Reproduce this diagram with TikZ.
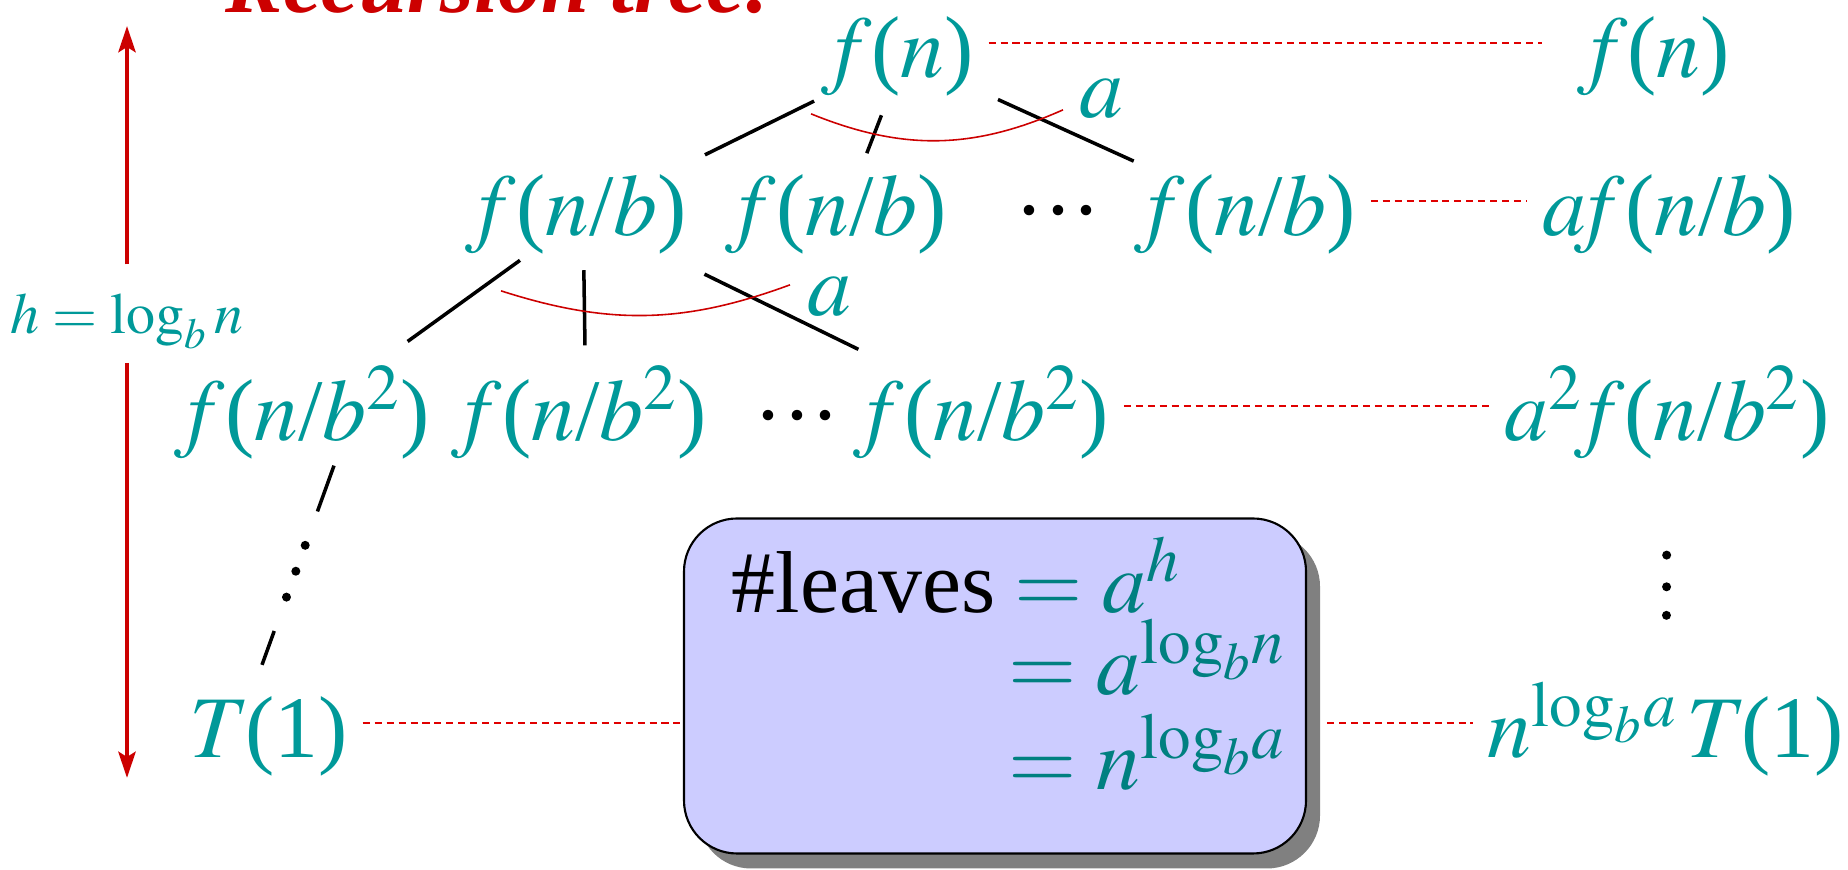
\documentclass[tikz,border=0pt]{standalone}
\usepackage{amsmath}
\usepackage{mathptmx}
\usepackage{fontspec}
\setmainfont{Liberation Serif}
\usetikzlibrary{arrows.meta,positioning,calc,shadows}
\definecolor{treeteal}{HTML}{009999}
\definecolor{boxteal}{HTML}{008080}
\definecolor{treered}{HTML}{CC0000}
\definecolor{dashred}{HTML}{E00000}
\definecolor{boxblue}{HTML}{CCCCFF}
\definecolor{shadowgray}{HTML}{808080}
\newcommand{\mi}[1]{{\fontencoding{OT1}\fontfamily{ptm}\fontshape{it}\selectfont#1\/}}
\newcommand{\rowdots}{\raisebox{.25em}{.\kern.07em.\kern.07em.}}

\begin{document}
\begin{tikzpicture}[
  font=\fontsize{25}{30}\selectfont,
  term/.style={text=treeteal,anchor=base,inner sep=1.4mm},
  edge/.style={line width=1pt,draw=black},
  fanarc/.style={draw=treered,line width=.45pt},
  dashline/.style={draw=dashred,line width=.6pt,dash pattern=on 2pt off 1.4pt},
  harrow/.style={-{Stealth[length=2.6mm,width=1.7mm,inset=.5mm]},line width=1.4pt,draw=treered},
  leafbox/.style={draw=black,line width=.6pt,fill=boxblue,rounded corners=5.3mm,
                  minimum width=6.22cm,minimum height=3.35cm,
                  drop shadow={shadow xshift=1.4mm,shadow yshift=-1.5mm,fill=shadowgray,opacity=1}}
]
\useasboundingbox (0,0) rectangle (18.48,8.70);
\node[anchor=base west,text=treered,inner sep=0,font=\fontsize{24.5}{28}\selectfont\bfseries\itshape] (title) at (2.25,8.575) {Recursion tree:};
% levels of the tree
\node[term] (r1l) at (9.04,7.92) {\mi{f}(\mi{n})};
\node[term] (r1r) at (16.60,7.92) {\mi{f}(\mi{n})};
\node[term] (r2a) at (5.83,6.34) {\mi{f}(\mi{n}/\mi{b})};
\node[term] (r2b) at (8.43,6.34) {\mi{f}(\mi{n}/\mi{b})};
\node[term,text=black] (r2d) at (10.58,6.34) {\rowdots};
\node[term] (r2c) at (12.52,6.34) {\mi{f}(\mi{n}/\mi{b})};
\node[term] (r2r) at (16.69,6.34) {\mi{a}\kern.02em\mi{f}(\mi{n}/\mi{b})};
\node[term] (r3a) at (3.09,4.29) {\mi{f}(\mi{n}/\mi{b}$^2$)};
\node[term] (r3b) at (5.86,4.29) {\mi{f}(\mi{n}/\mi{b}$^2$)};
\node[term,text=black] (r3d) at (7.97,4.29) {\rowdots};
\node[term] (r3c) at (9.88,4.29) {\mi{f}(\mi{n}/\mi{b}$^2$)};
\node[term] (r3r) at (16.67,4.29) {\mi{a}$^2$\kern.05em\mi{f}(\mi{n}/\mi{b}$^2$)};
\node[term] (t1) at (2.69,1.12) {\mi{T}(1)};
\node[term] (r4r) at (16.66,1.12) {\mi{n}$^{\mathrm{log}_b a}$\kern.1em\mi{T}(1)};
\node[term,inner sep=0] (fan1) at (11.01,7.52) {\mi{a}};
\node[term,inner sep=0] (fan2) at (8.29,5.54) {\mi{a}};
% height
\node[term,inner sep=0,font=\fontsize{16.5}{20}\selectfont] (hlab) at (1.27,5.36) {$h=\log_b n$};
\coordinate (htop) at (1.27,8.44);
\coordinate (hbot) at (1.27,0.92);
\draw[harrow] ([yshift=2.9mm]hlab.north) -- (htop);
\draw[harrow] ([yshift=-1.3mm]hlab.south) -- (hbot);
% edges
\draw[edge] ($(r1l)!.28!(r2a)$) -- ($(r1l)!.62!(r2a)$);
\draw[edge] ($(r1l)!.37!(r2b)$) -- ($(r1l)!.61!(r2b)$);
\draw[edge] ($(r1l)!.27!(r2c)$) -- ($(r1l)!.66!(r2c)$);
\draw[edge] ($(r2a)!.23!(r3a)$) -- ($(r2a)!.64!(r3a)$);
\draw[edge] ($(r2a)!.28!(r3b)$) -- ($(r2a)!.66!(r3b)$);
\draw[edge] ($(r2a)!.30!(r3c)$) -- ($(r2a)!.68!(r3c)$);
\draw[fanarc] ($(r1l)+(-0.93,-0.57)$) to[bend right=23] ($(r1l)+(1.59,-0.53)$);
\draw[fanarc] ($(r2a)+(-0.82,-0.76)$) to[bend right=19] ($(r2a)+(2.07,-0.70)$);
% down to the leaves
\coordinate (vd0) at ($(r3a)+(.25,-.53)$);
\coordinate (vd1) at ($(t1)+(-.07,.72)$);
\draw[edge] (vd0) -- ($(vd0)!.23!(vd1)$);
\foreach \t in {.4,.53,.66} \fill ($(vd0)!\t!(vd1)$) circle (.045);
\draw[edge] ($(vd0)!.83!(vd1)$) -- (vd1);
\foreach \t in {.36,.46,.55} \fill ($(r3r.base)!\t!(r4r.base)$) circle (.045);
% row sums
\draw[dashline,shorten >=3.3mm] ([yshift=3.5mm]r1l.base east) -- ([yshift=3.5mm]r1r.base west);
\draw[dashline] ([yshift=3.5mm]r2c.base east) -- ([yshift=3.5mm]r2r.base west);
\draw[dashline] ([yshift=3.5mm]r3c.base east) -- ([yshift=3.5mm]r3r.base west);
% leaves box
\node[leafbox] (box) at (9.95,1.84) {};
\node[anchor=base west,inner sep=0] (lv1) at (7.31,2.57) {\#leaves$\color{boxteal}{}= a^h$};
\node[anchor=base west,inner sep=0,text=boxteal] (lv2) at (10.08,1.75) {$= a^{\mathrm{log}_b n}$};
\node[anchor=base west,inner sep=0,text=boxteal] (lv3) at (10.08,0.80) {$= n^{\mathrm{log}_b a}$};
\coordinate (t1d) at ([yshift=3.5mm]t1.base east);
\draw[dashline] (t1d) -- (t1d -| box.west);
\coordinate (r4d) at ([yshift=3.5mm]r4r.base west);
\draw[dashline,shorten <=2mm] (r4d -| box.east) -- (r4d);
\end{tikzpicture}
\end{document}
